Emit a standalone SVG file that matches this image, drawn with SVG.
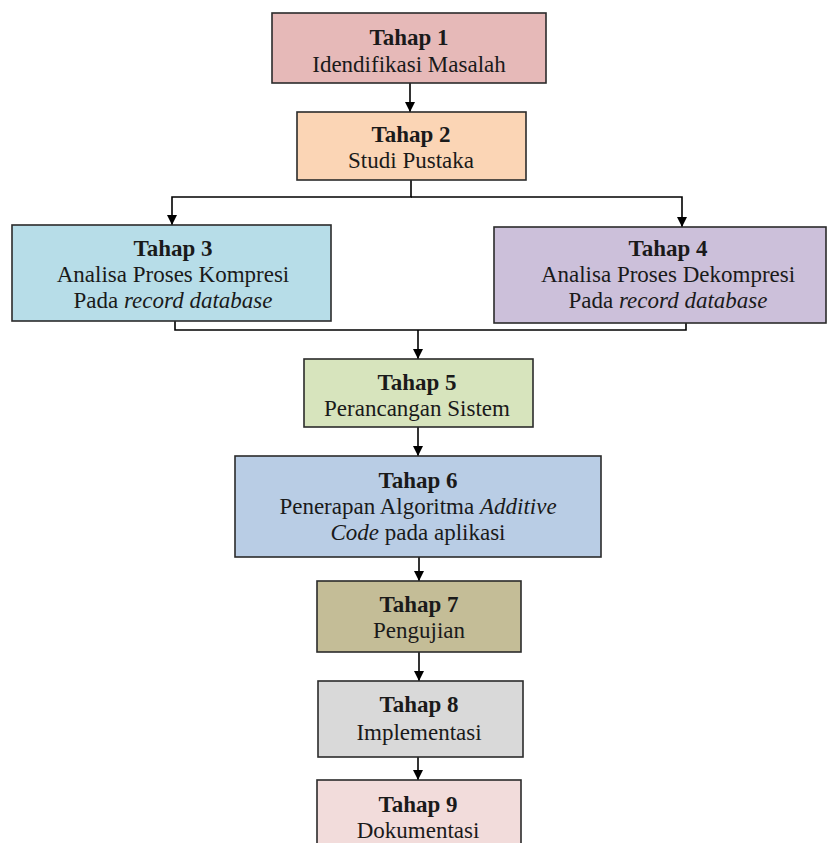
<svg xmlns="http://www.w3.org/2000/svg" width="828" height="843" viewBox="0 0 828 843">
<defs>
<marker id="ah" viewBox="0 0 10 10" refX="10" refY="5" markerWidth="10" markerHeight="11" markerUnits="userSpaceOnUse" orient="auto">
<path d="M0,0 L10,5 L0,10 z" fill="#000"/>
</marker>
<style>
.box{stroke:#2b2b2b;stroke-width:1.6}
.t{font-family:"Liberation Serif","Times New Roman",serif;font-size:23px;fill:#1a1a1a;text-anchor:middle}
.b{font-weight:bold}
.c{fill:none;stroke:#000;stroke-width:1.6}
</style>
</defs>
<rect width="828" height="843" fill="#fff"/>
<g id="connectors">
<path class="c" d="M410,83 V112" marker-end="url(#ah)"/>
<path class="c" d="M411,180 V197 H172 V225" marker-end="url(#ah)"/>
<path class="c" d="M411,197 H682 V227" marker-end="url(#ah)"/>
<path class="c" d="M175,321 V330 H686 V323"/>
<path class="c" d="M418,330 V359" marker-end="url(#ah)"/>
<path class="c" d="M418,427 V456" marker-end="url(#ah)"/>
<path class="c" d="M419,557 V581" marker-end="url(#ah)"/>
<path class="c" d="M419,652 V681" marker-end="url(#ah)"/>
<path class="c" d="M418,757 V780" marker-end="url(#ah)"/>
</g>
<g id="tahap1">
<rect class="box" x="272" y="13" width="274" height="70" fill="#E6B9B8"/>
<text class="t b" x="409" y="45">Tahap 1</text>
<text class="t" x="409" y="72">Idendifikasi Masalah</text>
</g>
<g id="tahap2">
<rect class="box" x="297" y="112" width="229" height="68" fill="#FBD5B5"/>
<text class="t b" x="411" y="142">Tahap 2</text>
<text class="t" x="411" y="168">Studi Pustaka</text>
</g>
<g id="tahap3">
<rect class="box" x="12" y="225" width="319" height="96" fill="#B7DDE8"/>
<text class="t b" x="173" y="256">Tahap 3</text>
<text class="t" x="173" y="282">Analisa Proses Kompresi</text>
<text class="t" x="173" y="308">Pada <tspan font-style="italic">record database</tspan></text>
</g>
<g id="tahap4">
<rect class="box" x="494" y="227" width="332" height="96" fill="#CCC0DA"/>
<text class="t b" x="668" y="256">Tahap 4</text>
<text class="t" x="668" y="282">Analisa Proses Dekompresi</text>
<text class="t" x="668" y="308">Pada <tspan font-style="italic">record database</tspan></text>
</g>
<g id="tahap5">
<rect class="box" x="304" y="359" width="229" height="68" fill="#D7E4BD"/>
<text class="t b" x="417" y="390">Tahap 5</text>
<text class="t" x="417" y="416">Perancangan Sistem</text>
</g>
<g id="tahap6">
<rect class="box" x="235" y="456" width="366" height="101" fill="#B9CDE5"/>
<text class="t b" x="418" y="488">Tahap 6</text>
<text class="t" x="418" y="514">Penerapan Algoritma <tspan font-style="italic">Additive</tspan></text>
<text class="t" x="418" y="540"><tspan font-style="italic">Code</tspan> pada aplikasi</text>
</g>
<g id="tahap7">
<rect class="box" x="317" y="581" width="204" height="71" fill="#C4BD97"/>
<text class="t b" x="419" y="612">Tahap 7</text>
<text class="t" x="419" y="638">Pengujian</text>
</g>
<g id="tahap8">
<rect class="box" x="318" y="681" width="205" height="76" fill="#D9D9D9"/>
<text class="t b" x="419" y="712">Tahap 8</text>
<text class="t" x="419" y="740">Implementasi</text>
</g>
<g id="tahap9">
<rect class="box" x="317" y="780" width="204" height="80" fill="#F2DCDB"/>
<text class="t b" x="418" y="812">Tahap 9</text>
<text class="t" x="418" y="838">Dokumentasi</text>
</g>
</svg>
